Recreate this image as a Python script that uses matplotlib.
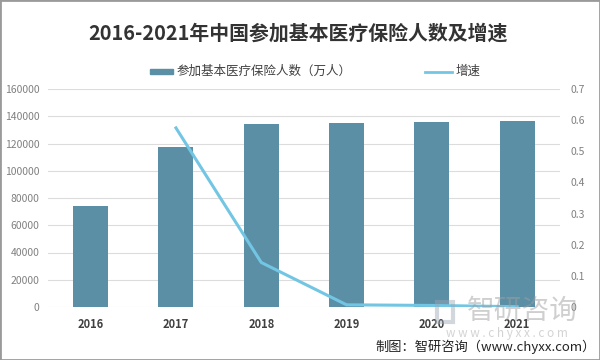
import matplotlib
matplotlib.use("Agg")
import matplotlib.pyplot as plt
from matplotlib.patches import Rectangle
from matplotlib.lines import Line2D

plt.rcParams['font.family'] = ['Noto Sans CJK SC', 'DejaVu Sans']

years = ['2016', '2017', '2018', '2019', '2020', '2021']
insured = [74392, 117681, 134459, 135407, 136131, 136297]
growth_years = ['2017', '2018', '2019', '2020', '2021']
growth = [0.575, 0.143, 0.007, 0.005, 0.001]

title = '2016-2021年中国参加基本医疗保险人数及增速'
bar_label = '参加基本医疗保险人数（万人）'
line_label = '增速'
source = '制图：智研咨询（www.chyxx.com）'

bar_color = '#5b8fa6'
line_color = '#72c6e4'

fig = plt.figure(figsize=(6, 3.6), dpi=100)
ax = fig.add_axes([0.08, 1 - 307 / 360, 0.853, 218 / 360])
x = list(range(len(years)))
ax.bar(x, insured, width=0.41, color=bar_color, zorder=2)
ax.set_xlim(-0.5, len(years) - 0.5)
ax.set_ylim(0, 160000)
ax.set_yticks(range(0, 160001, 20000))
ax.set_yticklabels([str(v) for v in range(0, 160001, 20000)])
ax.set_xticks(x)
ax.set_xticklabels(years, fontweight='bold', color='#404040', fontsize=8)
ax.tick_params(axis='y', length=0, labelsize=7.5, labelcolor='#808080', pad=6)
ax.tick_params(axis='x', length=0, pad=8)
ax.grid(axis='y', color='#dcdcdc', linewidth=0.8, zorder=0)
for s in ax.spines.values():
    s.set_visible(False)

ax2 = ax.twinx()
gx = [years.index(y) for y in growth_years]
ax2.plot(gx, growth, color=line_color, linewidth=2.2, zorder=3)
ax2.set_ylim(0, 0.7)
ticks2 = [0, 0.1, 0.2, 0.3, 0.4, 0.5, 0.6, 0.7]
ax2.set_yticks(ticks2)
ax2.set_yticklabels(['0'] + [f'{t:.1f}' for t in ticks2[1:]])
ax2.tick_params(axis='y', length=0, labelsize=7.5, labelcolor='#808080', pad=8)
for s in ax2.spines.values():
    s.set_visible(False)

fig.text(298 / 600, 1 - 33 / 360, title, ha='center', va='center',
         fontsize=14.3, fontweight='bold', color='#333333')

# legend
fig.patches.append(Rectangle((150 / 600, 1 - 74 / 360), 23 / 600, 5 / 360,
                             transform=fig.transFigure, color=bar_color))
fig.text(177 / 600, 1 - 71.5 / 360, bar_label, ha='left', va='center',
         fontsize=9, color='#404040')
fig.lines.append(Line2D([425 / 600, 452 / 600], [1 - 71.5 / 360, 1 - 71.5 / 360],
                        transform=fig.transFigure, color=line_color, linewidth=2))
fig.text(456 / 600, 1 - 71.5 / 360, line_label, ha='left', va='center',
         fontsize=9, color='#404040')

# watermark
fig.patches.append(Rectangle((437 / 600, 1 - 322 / 360), 16 / 600, 20 / 360,
                             transform=fig.transFigure, fill=False,
                             edgecolor='#9aa7b3', linewidth=3, alpha=0.45))
fig.text(522 / 600, 1 - 311 / 360, '智研咨询', ha='center', va='center',
         fontsize=20, color='#a0a0a0', alpha=0.5)
fig.text(507 / 600, 1 - 333 / 360, 'w w w . c h y x x . c o m', ha='center',
         va='center', fontsize=8.5, color='#b0b0b0', alpha=0.55)

fig.text(596 / 600, 1 - 347 / 360, source, ha='right', va='center',
         fontsize=9.5, color='#222222')

fig.patches.append(Rectangle((0, 0), 1, 1, transform=fig.transFigure,
                             fill=False, edgecolor='#9a9a9a', linewidth=2))

fig.savefig('out.png', dpi=100)
